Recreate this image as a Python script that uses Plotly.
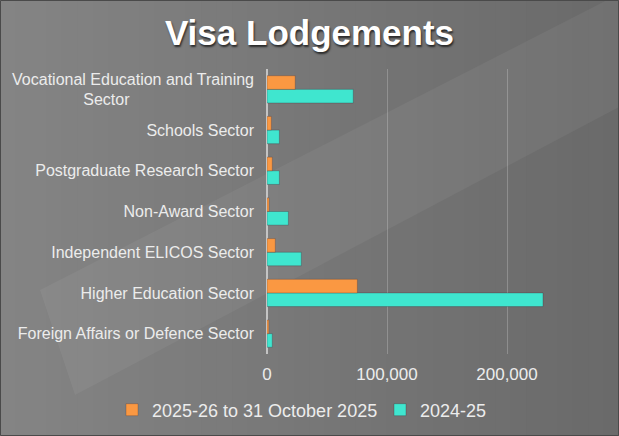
import plotly.graph_objects as go

categories = [
    "Foreign Affairs or Defence Sector",
    "Higher Education Sector",
    "Independent ELICOS Sector",
    "Non-Award Sector",
    "Postgraduate Research Sector",
    "Schools Sector",
    "Vocational Education and Training Sector",
]
tick_labels = [
    "Foreign Affairs or Defence Sector",
    "Higher Education Sector",
    "Independent ELICOS Sector",
    "Non-Award Sector",
    "Postgraduate Research Sector",
    "Schools Sector",
    "Vocational Education and Training<br>Sector" + "\u00a0" * 28,
]
series_2025_26 = [1500, 75300, 6900, 1700, 4400, 3600, 23500]
series_2024_25 = [4400, 230000, 28600, 17800, 10300, 10300, 71900]
name_2025_26 = "2025-26 to 31 October 2025"
name_2024_25 = "2024-25"

W, H = 619, 436
L, R, T, B = 267, 52, 69, 82
pw, ph = W - L - R, H - T - B


def px(x):
    return (x - L) / pw


def py(y):
    return (H - B - y) / ph


fig = go.Figure()
fig.add_trace(go.Bar(
    y=categories, x=series_2024_25, orientation="h", name=name_2024_25,
    marker=dict(color="#3fe6cf", line=dict(color="rgba(60,40,50,0.3)", width=1)),
    legend="legend2",
))
fig.add_trace(go.Bar(
    y=categories, x=series_2025_26, orientation="h", name=name_2025_26,
    marker=dict(color="#fa9842", line=dict(color="rgba(60,40,50,0.25)", width=1)),
    legend="legend",
))

# background gradient (style only)
shapes = []
n = 40
for i in range(n):
    t = i / (n - 1)
    c = int(round(0x84 - (0x84 - 0x6a) * t))
    shapes.append(dict(
        type="rect", xref="paper", yref="paper",
        x0=px(i * W / n), x1=px((i + 1) * W / n + 1), y0=py(H), y1=py(0),
        fillcolor=f"rgb({c},{c},{c})", line=dict(width=0), layer="below",
    ))
# faint diagonal band
band = [(40, 290), (619, -6), (619, 107), (75, 395)]
path = "M " + " L ".join(f"{px(a)},{py(b)}" for a, b in band) + " Z"
shapes.append(dict(type="path", xref="paper", yref="paper", path=path,
                   fillcolor="rgba(255,255,255,0.05)", line=dict(width=0), layer="below"))
# border
shapes.append(dict(type="rect", xref="paper", yref="paper",
                   x0=px(0.5), x1=px(W - 0.5), y0=py(H - 0.5), y1=py(0.5),
                   line=dict(color="#4a4a4a", width=1), fillcolor="rgba(0,0,0,0)", layer="above"))

legend_common = dict(
    orientation="h",
    xref="container", xanchor="left",
    yref="container", yanchor="middle",
    y=1 - 410 / H,
    font=dict(size=18, color="#ececec"),
    bgcolor="rgba(0,0,0,0)",
    itemwidth=30,
)

fig.update_layout(
    width=W, height=H,
    margin=dict(l=L, r=R, t=T, b=B, autoexpand=False),
    paper_bgcolor="#777777",
    plot_bgcolor="rgba(0,0,0,0)",
    barmode="group",
    bargap=0.33,
    bargroupgap=0.0,
    shapes=shapes,
    font=dict(family="Liberation Sans, Arial, sans-serif", color="#e8e8e8"),
    title=dict(
        text="<b>Visa Lodgements</b>",
        x=0.5, xref="container", xanchor="center",
        y=1 - 33 / H, yref="container", yanchor="middle",
        font=dict(size=35, color="#ffffff", shadow="1px 2px 2px rgba(0,0,0,0.65)"),
    ),
    xaxis=dict(
        range=[0, 250000],
        tickvals=[0, 100000, 200000],
        tickformat=",",
        showgrid=True, gridcolor="rgba(255,255,255,0.22)", gridwidth=1,
        zeroline=True, zerolinecolor="#c4c4c4", zerolinewidth=2,
        tickfont=dict(size=17, color="#ececec"),
        ticklabelstandoff=8,
        fixedrange=True,
    ),
    yaxis=dict(
        type="category",
        categoryorder="array", categoryarray=categories,
        tickvals=categories, ticktext=tick_labels,
        tickfont=dict(size=16, color="#ececec"),
        ticklabelstandoff=12,
        showgrid=False, zeroline=False,
        fixedrange=True,
    ),
    legend=dict(legend_common, x=112 / W),
    legend2=dict(legend_common, x=380 / W),
    showlegend=True,
)

fig.write_html("out.html")
